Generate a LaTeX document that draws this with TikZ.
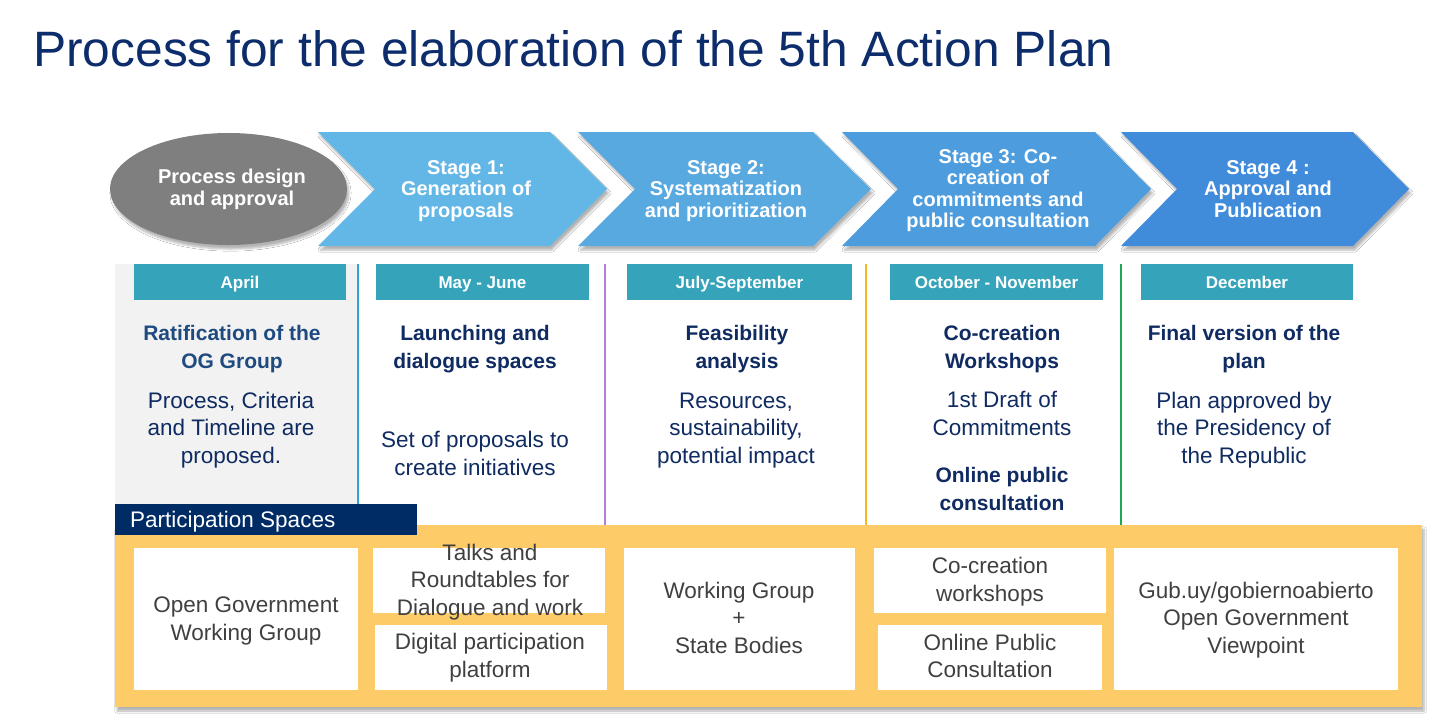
\documentclass[tikz,border=0pt]{standalone}
\usepackage{fontspec}
\setmainfont{Liberation Sans}
\usetikzlibrary{shapes.geometric,shadows.blur}
\definecolor{titleblue}{HTML}{0C2C6B}
\definecolor{navy}{HTML}{0F2B62}
\definecolor{navylight}{HTML}{1F4A80}
\definecolor{barteal}{HTML}{35A4BB}
\definecolor{chA}{HTML}{63B7E6}
\definecolor{chB}{HTML}{59A9E1}
\definecolor{chC}{HTML}{4C9CDE}
\definecolor{chD}{HTML}{418BDB}
\definecolor{ellgray}{HTML}{7F7F7F}
\definecolor{colgray}{HTML}{F2F2F2}
\definecolor{psnavy}{HTML}{002C66}
\definecolor{yel}{HTML}{FECB69}
\definecolor{boxgray}{HTML}{404040}
\definecolor{divblue}{HTML}{2EA3DB}
\definecolor{divpurple}{HTML}{B47ED8}
\definecolor{divorange}{HTML}{F6B81B}
\definecolor{divgreen}{HTML}{1DAA4F}
\begin{document}
\begin{tikzpicture}[x=1pt,y=-1pt,
  shadowed/.style={blur shadow={shadow xshift=2pt,shadow yshift=-4pt,shadow blur steps=6,shadow opacity=30}},
  stagetxt/.style={text=white,font=\bfseries\fontsize{20}{21.5}\selectfont,align=center,anchor=base,inner sep=0pt},
  hdrbar/.style={fill=barteal,text=white,font=\bfseries\fontsize{17}{20}\selectfont,minimum height=36pt,inner sep=0pt,text height=12.2pt,text depth=0pt},
  colhead/.style={text=navy,font=\bfseries\fontsize{21}{27.5}\selectfont,align=center,anchor=base,inner sep=0pt},
  colbody/.style={text=navy,font=\fontsize{22.5}{27.5}\selectfont,align=center,anchor=base,inner sep=0pt},
  boxtxt/.style={text=boxgray,font=\fontsize{22.5}{27.5}\selectfont,align=center,anchor=base,inner sep=0pt},
  divider/.style={line width=2pt},
  whitebox/.style={fill=white},
]
\useasboundingbox (0,0) rectangle (1434,721);
\fill[white] (0,0) rectangle (1434,721);

% title
\node[anchor=base west,inner sep=0pt,text=titleblue,font=\fontsize{49.7}{60}\selectfont] (title) at (33,66) {Process for the elaboration of the 5th Action Plan};

% April column background
\fill[colgray] (115,264) rectangle (357,525);

% chevrons
\fill[chA,shadowed] (318,132) -- (550,132) -- (607,189) -- (550,246) -- (318,246) -- (375,189) -- cycle;
\fill[chB,shadowed] (578,132) -- (813,132) -- (871,189) -- (813,246) -- (578,246) -- (635,189) -- cycle;
\fill[chC,shadowed] (842,132) -- (1095,132) -- (1151,189) -- (1095,246) -- (842,246) -- (898,189) -- cycle;
\fill[chD,shadowed] (1121,132) -- (1353,132) -- (1409,189) -- (1353,246) -- (1121,246) -- (1177,189) -- cycle;

% ellipse
\node[ellipse,fill=ellgray,minimum width=237pt,minimum height=112pt,inner sep=0pt,shadowed] (pd) at (228.5,189) {};
\node[stagetxt] (pdt) at (232,205) {Process design\\and approval};

\node[stagetxt] (s1) at (466,217) {Stage 1:\\Generation of\\proposals};
\node[stagetxt] (s2) at (726,217) {Stage 2:\\Systematization\\and prioritization};
\node[stagetxt] (s3) at (998,227.5) {Stage 3: Co-\\creation of\\commitments and\\public consultation};
\node[stagetxt] (s4) at (1268,217) {Stage 4 :\\Approval and\\Publication};

% month bars
\node[hdrbar,minimum width=212pt] (m1) at (240,282) {April};
\node[hdrbar,minimum width=213pt] (m2) at (482.5,282) {May - June};
\node[hdrbar,minimum width=225pt] (m3) at (739.5,282) {July-September};
\node[hdrbar,minimum width=213pt] (m4) at (996.5,282) {October - November};
\node[hdrbar,minimum width=212pt] (m5) at (1247,282) {December};

% dividers
\coordinate (d1t) at (358,264); \coordinate (d1b) at (358,525);
\coordinate (d2t) at (605,264); \coordinate (d2b) at (605,525);
\coordinate (d3t) at (866,264); \coordinate (d3b) at (866,525);
\coordinate (d4t) at (1121,264); \coordinate (d4b) at (1121,525);
\draw[divider,divblue] (d1t) -- (d1b);
\draw[divider,divpurple] (d2t) -- (d2b);
\draw[divider,divorange] (d3t) -- (d3b);
\draw[divider,divgreen] (d4t) -- (d4b);

% column texts (anchor = baseline of last line)
\node[colhead,text=navylight] (h1) at (232,368) {Ratification of the\\OG Group};
\node[colbody] (b1) at (231,463) {Process, Criteria\\and Timeline are\\proposed.};
\node[colhead] (h2) at (475,368) {Launching and\\dialogue spaces};
\node[colbody] (b2) at (475,475) {Set of proposals to\\create initiatives};
\node[colhead] (h3) at (737,368) {Feasibility\\analysis};
\node[colbody] (b3) at (736,463) {Resources,\\sustainability,\\potential impact};
\node[colhead] (h4) at (1002,368) {Co-creation\\Workshops};
\node[colbody] (b4) at (1002,435) {1st Draft of\\Commitments};
\node[colhead] (h4b) at (1002,510) {Online public\\consultation};
\node[colhead] (h5) at (1244,368) {Final version of the\\plan};
\node[colbody] (b5) at (1244,463) {Plan approved by\\the Presidency of\\the Republic};

% participation panel
\fill[yel,shadowed] (115,525) rectangle (1422,707);
\fill[psnavy] (115,504) rectangle (417,535);
\node[anchor=base west,inner sep=0pt,text=white,font=\fontsize{22.5}{27}\selectfont] (ps) at (130,527) {Participation Spaces};

\fill[whitebox] (134,548) rectangle (358,690);
\fill[whitebox] (373,548) rectangle (605,613);
\fill[whitebox] (375,625) rectangle (607,690);
\fill[whitebox] (624,548) rectangle (855,690);
\fill[whitebox] (874,548) rectangle (1106,613);
\fill[whitebox] (878,625) rectangle (1102,690);
\fill[whitebox] (1114,548) rectangle (1398,690);

\node[boxtxt] (p1) at (246,640) {Open Government\\Working Group};
\node[boxtxt] (p2) at (490,615) {Talks and\\Roundtables for\\Dialogue and work};
\node[boxtxt] (p3) at (490,677) {Digital participation\\platform};
\node[boxtxt] (p4) at (739,653) {Working Group\\+\\State Bodies};
\node[boxtxt] (p5) at (990,601) {Co-creation\\workshops};
\node[boxtxt] (p6) at (990,677.5) {Online Public\\Consultation};
\node[boxtxt] (p7) at (1256,653) {Gub.uy/gobiernoabierto\\Open Government\\Viewpoint};
\end{tikzpicture}
\end{document}
